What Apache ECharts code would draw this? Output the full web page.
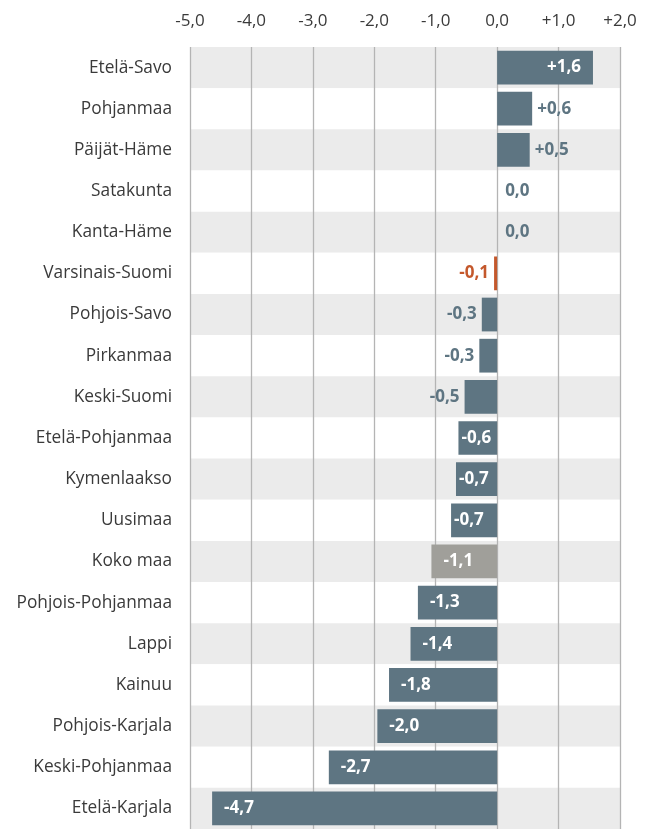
<!DOCTYPE html>
<html>
<head>
<meta charset="utf-8">
<script src="https://cdn.jsdelivr.net/npm/echarts@6/dist/echarts.min.js"></script>
<style>
html,body{margin:0;padding:0;background:#fff;}
#chart{width:651px;height:829px;}
</style>
</head>
<body>
<div id="chart"></div>
<script>
const categories = ["Etelä-Savo","Pohjanmaa","Päijät-Häme","Satakunta","Kanta-Häme","Varsinais-Suomi","Pohjois-Savo","Pirkanmaa","Keski-Suomi","Etelä-Pohjanmaa","Kymenlaakso","Uusimaa","Koko maa","Pohjois-Pohjanmaa","Lappi","Kainuu","Pohjois-Karjala","Keski-Pohjanmaa","Etelä-Karjala"];
const values = [1.56,0.57,0.53,0,0,-0.05,-0.25,-0.29,-0.53,-0.63,-0.67,-0.75,-1.07,-1.29,-1.41,-1.76,-1.95,-2.74,-4.64];
const labels = ["+1,6","+0,6","+0,5","0,0","0,0","-0,1","-0,3","-0,3","-0,5","-0,6","-0,7","-0,7","-1,1","-1,3","-1,4","-1,8","-2,0","-2,7","-4,7"];
const tickValues = [-5,-4,-3,-2,-1,0,1,2];

const BAR = '#5e7582', GREY = '#a09f9a', ORANGE = '#c4582c';
const FONT = '"Open Sans"';

const data = values.map((v, i) => {
  const name = categories[i];
  const color = name === 'Koko maa' ? GREY : (name === 'Varsinais-Suomi' ? ORANGE : BAR);
  const inside = Math.abs(v) >= 0.6;
  let position, distance;
  if (inside) {
    position = v > 0 ? 'insideRight' : 'insideLeft';
    distance = Math.abs(v) >= 1 ? 12 : 3;
  } else {
    position = v >= 0 ? 'right' : 'left';
    distance = v === 0 ? 8 : 5;
  }
  return {
    value: v,
    itemStyle: { color },
    label: {
      show: true, position, distance,
      formatter: labels[i],
      color: inside ? '#ffffff' : color,
      fontFamily: FONT, fontWeight: 'bold', fontSize: 17
    }
  };
});

const chart = echarts.init(document.getElementById('chart'));
chart.setOption({
  animation: false,
  backgroundColor: '#fff',
  grid: { left: 190, right: 31, top: 47, height: 786, containLabel: false },
  xAxis: {
    type: 'value', position: 'top', min: -5, max: 2, interval: 1,
    axisLine: { show: false }, axisTick: { show: false },
    splitLine: { show: true, lineStyle: { color: '#b4b4b4', width: 1.3 } },
    axisLabel: {
      margin: 17, fontFamily: FONT, fontSize: 17, color: '#3a3a3a',
      formatter: v => (v > 0 ? '+' : '') + v.toFixed(1).replace('.', ',')
    }
  },
  yAxis: {
    type: 'category', data: categories, inverse: true,
    axisLine: { show: false }, axisTick: { show: false },
    splitLine: { show: false },
    splitArea: { show: true, areaStyle: { color: ['#ebebeb', '#ffffff'] } },
    axisLabel: { margin: 18, fontFamily: FONT, fontSize: 17.3, color: '#3a3a3a' }
  },
  series: [{
    type: 'bar', data, barWidth: '82%'
  }]
});
</script>
</body>
</html>
